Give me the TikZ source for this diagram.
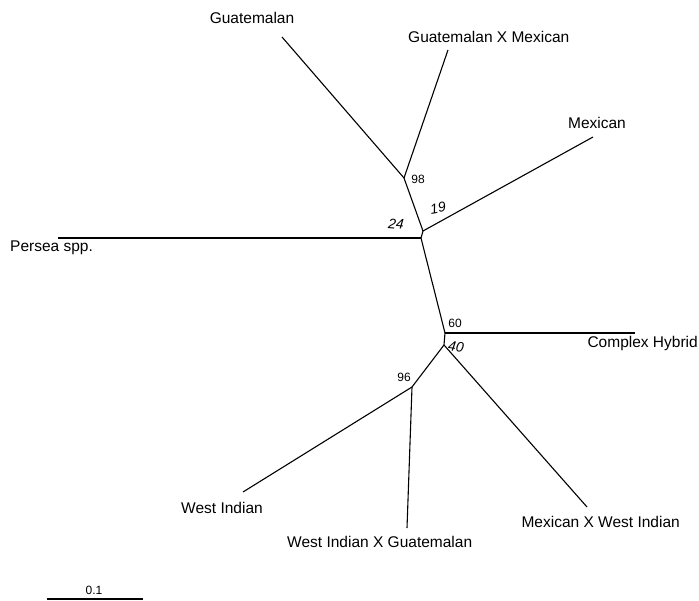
\documentclass[tikz,border=0pt]{standalone}
\usepackage{fontspec}
\setmainfont{Liberation Sans}
\begin{document}
\begin{tikzpicture}[x=1pt,y=-1pt,
  br/.style={line width=1.1pt,black},
  taxon/.style={inner sep=0pt,font=\fontsize{15.5}{18}\selectfont},
  boot/.style={inner sep=0pt,font=\fontsize{12}{14}\selectfont},
  hand/.style={inner sep=0pt,font=\fontsize{14}{16}\selectfont\itshape}]
\useasboundingbox (0,0) rectangle (699,601);
% internal nodes
\coordinate (n98) at (404,178);
\coordinate (nB) at (423,231);
\coordinate (nP) at (421,238);
\coordinate (n60) at (445,333);
\coordinate (n40) at (444,345);
\coordinate (n96) at (412,387);
% tips
\coordinate (tG) at (282,37);
\coordinate (tGM) at (448,50);
\coordinate (tM) at (593,137);
\coordinate (tP) at (58,238);
\coordinate (tCH) at (635,333);
\coordinate (tMW) at (587,507);
\coordinate (tW) at (243,492);
\coordinate (tWG) at (407,528);
% branches
\draw[br] (tG) -- (n98);
\draw[br] (tGM) -- (n98);
\draw[br] (n98) -- (nB);
\draw[br] (nB) -- (tM);
\draw[br] (nB) -- (nP);
\draw[br] (tP) -- (nP);
\draw[br] (nP) -- (n60);
\draw[br] (n60) -- (tCH);
\draw[br] (n60) -- (n40);
\draw[br] (n40) -- (tMW);
\draw[br] (n40) -- (n96);
\draw[br] (n96) -- (tW);
\draw[br] (n96) -- (tWG);
% taxon labels
\node[taxon] (lG) at (252,18) {Guatemalan};
\node[taxon,anchor=west] (lGM) at (408,37) {Guatemalan X Mexican};
\node[taxon] (lM) at (597,123) {Mexican};
\node[taxon,anchor=west] (lP) at (10,248) {Persea spp.};
\node[taxon,anchor=east] (lCH) at (698,343) {Complex Hybrid};
\node[taxon,anchor=east] (lMW) at (680,522) {Mexican X West Indian};
\node[taxon,anchor=east] (lW) at (263,508) {West Indian};
\node[taxon,anchor=west] (lWG) at (287,542) {West Indian X Guatemalan};
% support values
\node[boot] (b98) at (418,179) {98};
\node[boot] (b60) at (455,323) {60};
\node[boot] (b96) at (404,377) {96};
\node[hand,rotate=10] (h19) at (438,208) {19};
\node[hand,rotate=-5] (h24) at (396,224) {24};
\node[hand,rotate=-8] (h40) at (456,347) {40};
% scale bar
\coordinate (s1) at (47,599);
\coordinate (s2) at (143,599);
\draw[br] (s1) -- (s2);
\node[boot] (sl) at (94,590) {0.1};
\end{tikzpicture}
\end{document}
